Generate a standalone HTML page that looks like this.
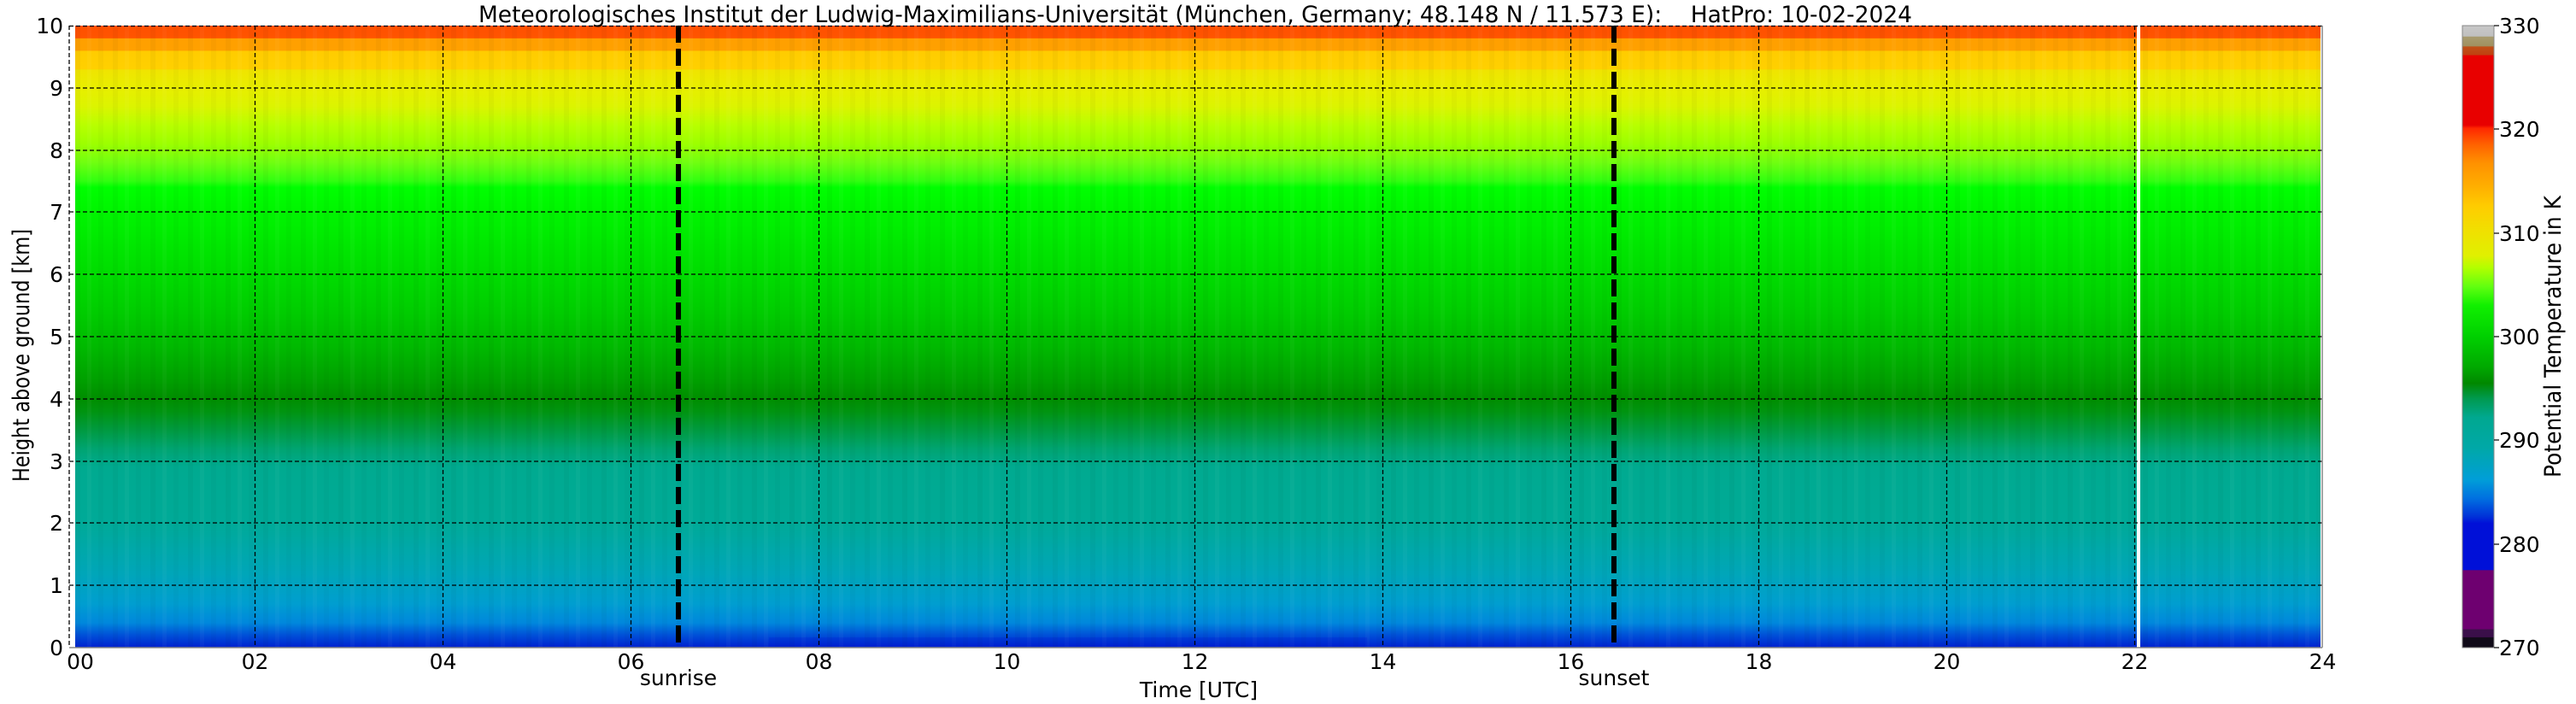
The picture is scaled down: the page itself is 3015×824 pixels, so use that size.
<!DOCTYPE html>
<html><head><meta charset="utf-8"><style>
html,body{margin:0;padding:0;background:#fff;}
svg{display:block;}
text{font-family:"DejaVu Sans","Liberation Sans",sans-serif;fill:#000;}
</style></head><body>
<svg width="3015" height="824" viewBox="0 0 3015 824" xmlns="http://www.w3.org/2000/svg">
<defs>
<linearGradient id="pg" x1="0" y1="0" x2="0" y2="1">
<stop offset="0" stop-color="#ff5000"/>
<stop offset="0.02" stop-color="#ff5400"/>
<stop offset="0.021" stop-color="#ffa000"/>
<stop offset="0.04" stop-color="#ffa000"/>
<stop offset="0.041" stop-color="#ffcc00"/>
<stop offset="0.07" stop-color="#ffd000"/>
<stop offset="0.071" stop-color="#f0e400"/>
<stop offset="0.10" stop-color="#e8ee00"/>
<stop offset="0.13" stop-color="#dcf400"/>
<stop offset="0.16" stop-color="#b8ff00"/>
<stop offset="0.19" stop-color="#9cff00"/>
<stop offset="0.22" stop-color="#70ff10"/>
<stop offset="0.25" stop-color="#30ff10"/>
<stop offset="0.26" stop-color="#00ff00"/>
<stop offset="0.35" stop-color="#00e800"/>
<stop offset="0.45" stop-color="#00d000"/>
<stop offset="0.52" stop-color="#00b800"/>
<stop offset="0.57" stop-color="#00a000"/>
<stop offset="0.60" stop-color="#008e00"/>
<stop offset="0.62" stop-color="#009410"/>
<stop offset="0.65" stop-color="#009a40"/>
<stop offset="0.68" stop-color="#00a470"/>
<stop offset="0.71" stop-color="#00aa90"/>
<stop offset="0.80" stop-color="#00aa98"/>
<stop offset="0.88" stop-color="#00a6b8"/>
<stop offset="0.93" stop-color="#009ed0"/>
<stop offset="0.96" stop-color="#0088dc"/>
<stop offset="0.98" stop-color="#0050d8"/>
<stop offset="1" stop-color="#0020d0"/>
</linearGradient>
<linearGradient id="cb" x1="0" y1="0" x2="0" y2="1">
<stop offset="0" stop-color="#c8c8c8"/>
<stop offset="0.017" stop-color="#c0c0c0"/>
<stop offset="0.018" stop-color="#a89c70"/>
<stop offset="0.033" stop-color="#a09060"/>
<stop offset="0.034" stop-color="#c05018"/>
<stop offset="0.047" stop-color="#c04010"/>
<stop offset="0.048" stop-color="#e80000"/>
<stop offset="0.16" stop-color="#e80000"/>
<stop offset="0.165" stop-color="#ff2800"/>
<stop offset="0.19" stop-color="#ff6000"/>
<stop offset="0.22" stop-color="#ff9000"/>
<stop offset="0.26" stop-color="#ffb000"/>
<stop offset="0.29" stop-color="#ffcc00"/>
<stop offset="0.33" stop-color="#f0e000"/>
<stop offset="0.37" stop-color="#e0f000"/>
<stop offset="0.39" stop-color="#b0ff00"/>
<stop offset="0.42" stop-color="#60ff10"/>
<stop offset="0.45" stop-color="#10f000"/>
<stop offset="0.50" stop-color="#00d000"/>
<stop offset="0.55" stop-color="#00a800"/>
<stop offset="0.575" stop-color="#008800"/>
<stop offset="0.60" stop-color="#009a50"/>
<stop offset="0.63" stop-color="#00a890"/>
<stop offset="0.68" stop-color="#00a8a8"/>
<stop offset="0.73" stop-color="#009ed8"/>
<stop offset="0.76" stop-color="#0070e0"/>
<stop offset="0.79" stop-color="#0030d8"/>
<stop offset="0.80" stop-color="#0010d8"/>
<stop offset="0.875" stop-color="#0010d8"/>
<stop offset="0.876" stop-color="#6e0070"/>
<stop offset="0.97" stop-color="#6e0070"/>
<stop offset="0.971" stop-color="#3a0f4a"/>
<stop offset="0.983" stop-color="#3a0f4a"/>
<stop offset="0.984" stop-color="#100a18"/>
<stop offset="1" stop-color="#100a18"/>
</linearGradient>
<pattern id="streak" x="88" y="0" width="44" height="824" patternUnits="userSpaceOnUse">
<rect x="0" y="0" width="6" height="824" fill="#000" opacity="0.03"/>
<rect x="14" y="0" width="5" height="824" fill="#fff" opacity="0.03"/>
<rect x="27" y="0" width="6" height="824" fill="#000" opacity="0.025"/>
</pattern>
</defs>

<rect x="88" y="30" width="2628" height="728" fill="url(#pg)"/>
<rect x="88" y="30" width="2628" height="728" fill="url(#streak)"/>
<rect x="900" y="746" width="700" height="12" fill="#0010d0" opacity="0.18"/>
<rect x="2501" y="30" width="4" height="728" fill="#fff"/>

<g stroke="#000" stroke-width="1.3" stroke-dasharray="5,3" fill="none">
<line x1="81" y1="30.5" x2="2718" y2="30.5"/>
<line x1="81" y1="103" x2="2718" y2="103"/>
<line x1="81" y1="176" x2="2718" y2="176"/>
<line x1="81" y1="248" x2="2718" y2="248"/>
<line x1="81" y1="321" x2="2718" y2="321"/>
<line x1="81" y1="394" x2="2718" y2="394"/>
<line x1="81" y1="467" x2="2718" y2="467"/>
<line x1="81" y1="540" x2="2718" y2="540"/>
<line x1="81" y1="612" x2="2718" y2="612"/>
<line x1="81" y1="685" x2="2718" y2="685"/>
<line x1="81" y1="30" x2="81" y2="758"/>
<line x1="298.5" y1="30" x2="298.5" y2="758"/>
<line x1="518.5" y1="30" x2="518.5" y2="758"/>
<line x1="738.5" y1="30" x2="738.5" y2="758"/>
<line x1="958.5" y1="30" x2="958.5" y2="758"/>
<line x1="1178.5" y1="30" x2="1178.5" y2="758"/>
<line x1="1398.5" y1="30" x2="1398.5" y2="758"/>
<line x1="1618.5" y1="30" x2="1618.5" y2="758"/>
<line x1="1838.5" y1="30" x2="1838.5" y2="758"/>
<line x1="2058.5" y1="30" x2="2058.5" y2="758"/>
<line x1="2278.5" y1="30" x2="2278.5" y2="758"/>
<line x1="2498.5" y1="30" x2="2498.5" y2="758"/>
</g>
<g stroke="#000" stroke-width="6" stroke-dasharray="20,7" fill="none">
<line x1="794" y1="30" x2="794" y2="758"/>
<line x1="1889" y1="30" x2="1889" y2="758"/>
</g>
<g stroke="#888" stroke-width="1.5" fill="none">
<line x1="81" y1="758" x2="2718" y2="758"/>
<line x1="2718" y1="30" x2="2718" y2="758"/>
</g>

<g font-size="25" text-anchor="end">
<text x="74" y="39">10</text>
<text x="74" y="112">9</text>
<text x="74" y="185">8</text>
<text x="74" y="257">7</text>
<text x="74" y="330">6</text>
<text x="74" y="403">5</text>
<text x="74" y="476">4</text>
<text x="74" y="549">3</text>
<text x="74" y="621">2</text>
<text x="74" y="694">1</text>
<text x="74" y="767">0</text>
</g>
<g font-size="25" text-anchor="middle">
<text x="94" y="783">00</text>
<text x="298.5" y="783">02</text>
<text x="518.5" y="783">04</text>
<text x="738.5" y="783">06</text>
<text x="958.5" y="783">08</text>
<text x="1178.5" y="783">10</text>
<text x="1398.5" y="783">12</text>
<text x="1618.5" y="783">14</text>
<text x="1838.5" y="783">16</text>
<text x="2058.5" y="783">18</text>
<text x="2278.5" y="783">20</text>
<text x="2498.5" y="783">22</text>
<text x="2718.5" y="783">24</text>
<text x="794" y="802">sunrise</text>
<text x="1889" y="802">sunset</text>
<text x="1403" y="816">Time [UTC]</text>
</g>
<text x="34" y="416" font-size="27" text-anchor="middle" textLength="296" lengthAdjust="spacingAndGlyphs" transform="rotate(-90 34 416)">Height above ground [km]</text>
<text x="1399" y="26" font-size="27" text-anchor="middle" textLength="1678" lengthAdjust="spacingAndGlyphs" xml:space="preserve" style="white-space:pre">Meteorologisches Institut der Ludwig-Maximilians-Universität (München, Germany; 48.148 N / 11.573 E):    HatPro: 10-02-2024</text>

<rect x="2882" y="30" width="37" height="728" fill="url(#cb)" stroke="#888" stroke-width="1"/>
<g stroke="#000" stroke-width="1.2">
<line x1="2919" y1="30" x2="2925" y2="30"/>
<line x1="2919" y1="151" x2="2925" y2="151"/>
<line x1="2919" y1="273" x2="2925" y2="273"/>
<line x1="2919" y1="394" x2="2925" y2="394"/>
<line x1="2919" y1="515" x2="2925" y2="515"/>
<line x1="2919" y1="637" x2="2925" y2="637"/>
<line x1="2919" y1="758" x2="2925" y2="758"/>
</g>
<g font-size="25">
<text x="2925" y="39">330</text>
<text x="2925" y="160">320</text>
<text x="2925" y="282">310</text>
<text x="2925" y="403">300</text>
<text x="2925" y="524">290</text>
<text x="2925" y="646">280</text>
<text x="2925" y="767">270</text>
</g>
<text x="2997" y="394" font-size="27" text-anchor="middle" textLength="330" lengthAdjust="spacingAndGlyphs" transform="rotate(-90 2997 394)">Potential Temperature in K</text>
</svg>
</body></html>
